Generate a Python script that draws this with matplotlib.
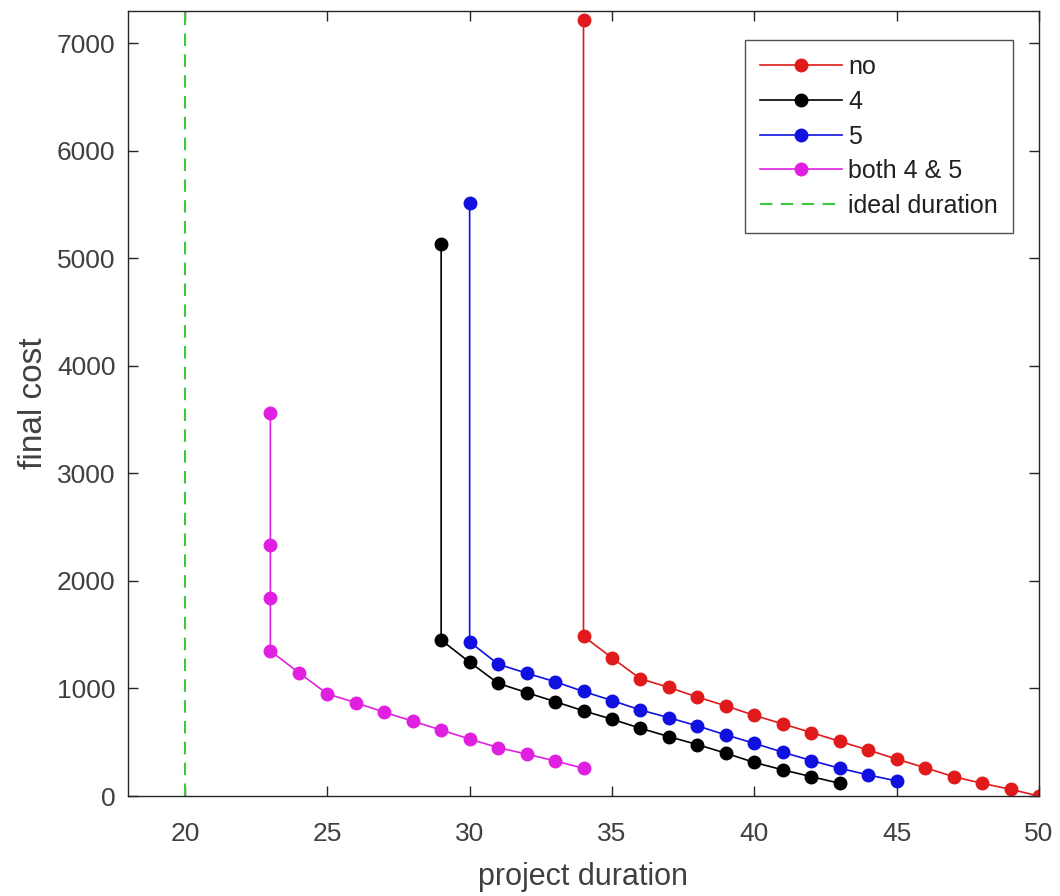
import numpy as np
import matplotlib.pyplot as plt

plt.rcParams['font.family'] = ['Liberation Sans', 'DejaVu Sans']

# final cost vs project duration
dur_no = [34, 34, 35, 36, 37, 38, 39, 40, 41, 42, 43, 44, 45, 46, 47, 48, 49, 50]
cost_no = [7212, 1485, 1285, 1090, 1010, 920, 838, 750, 670, 590, 508, 428, 343, 263, 180, 118, 62, 0]

dur_4 = [29, 29, 30, 31, 32, 33, 34, 35, 36, 37, 38, 39, 40, 41, 42, 43]
cost_4 = [5136, 1450, 1245, 1048, 962, 878, 792, 714, 630, 552, 478, 398, 312, 243, 180, 118]

dur_5 = [30, 30, 31, 32, 33, 34, 35, 36, 37, 38, 39, 40, 41, 42, 43, 44, 45]
cost_5 = [5514, 1434, 1226, 1142, 1063, 972, 888, 800, 728, 652, 568, 490, 407, 330, 258, 196, 140]

dur_45 = [23, 23, 23, 23, 24, 25, 26, 27, 28, 29, 30, 31, 32, 33, 34]
cost_45 = [3562, 2335, 1838, 1350, 1147, 950, 868, 779, 696, 613, 530, 450, 390, 326, 258]

ideal_duration = 20

axis_grey = '#262626'

fig = plt.figure(figsize=(10.6, 8.96), dpi=100)
ax = fig.add_axes([128 / 1060, 1 - 796 / 896, (1039 - 128) / 1060, (796 - 11) / 896])

mk = dict(marker='o', markersize=9, linewidth=1.2)
ax.plot(dur_no, cost_no, color='#e01a1a', label='no', **mk)
ax.plot(dur_4, cost_4, color='black', label='4', **mk)
ax.plot(dur_5, cost_5, color='#1010e0', label='5', **mk)
ax.plot(dur_45, cost_45, color='#e020e0', label='both 4 & 5', **mk)
ax.axvline(ideal_duration, color='#3cc83c', linestyle=(0, (6, 4)), linewidth=1.5,
           label='ideal duration')

ax.set_xlim(18, 50)
ax.set_ylim(0, 7300)
ax.set_xticks(np.arange(20, 51, 5))
ax.set_yticks(np.arange(0, 7001, 1000))

ax.tick_params(direction='in', length=7, width=1, top=True, right=True,
               labelsize=19, colors=axis_grey, labelcolor='#404040')
ax.tick_params(axis='x', pad=19)
ax.tick_params(axis='y', pad=9)
for s in ax.spines.values():
    s.set_color(axis_grey)
    s.set_linewidth(1)

ax.set_xlabel('project duration', fontsize=22, color='#404040', labelpad=11)
ax.set_ylabel('final cost', fontsize=24, color='#404040', labelpad=6)

leg = ax.legend(loc='upper right', bbox_to_anchor=(1013 / 1060, 1 - 40 / 896),
                bbox_transform=fig.transFigure, fontsize=18, frameon=True,
                fancybox=False, edgecolor=axis_grey, handlelength=3.3,
                handletextpad=0.25, borderpad=0.6, labelspacing=0.43, borderaxespad=0)
leg.get_frame().set_linewidth(1)
for t in leg.get_texts():
    t.set_color('#202020')

fig.savefig('out.png', dpi=100)
